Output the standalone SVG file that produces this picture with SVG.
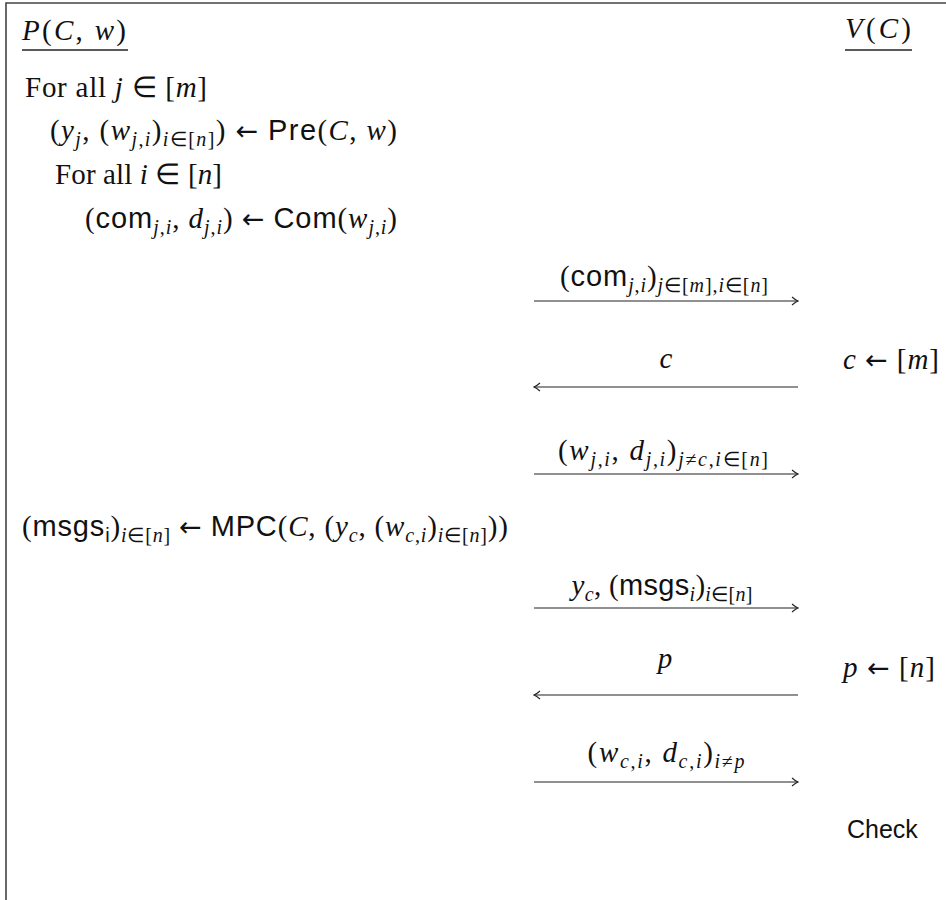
<svg xmlns="http://www.w3.org/2000/svg" width="946" height="900" viewBox="0 0 946 900">
  <style>
    .t { font-family: "Liberation Serif", "Times New Roman", serif; font-size: 29px; fill: #111; }
    .it { font-style: italic; }
    .sf { font-family: "Liberation Sans", Arial, sans-serif; font-style: normal; }
    .ar { font-family: "DejaVu Sans", sans-serif; font-style: normal; font-size: 27px; }
    .sub { font-size: 20px; }
    .frame { stroke: #444; stroke-width: 1.6; fill: none; }
    .rule { stroke: #222; stroke-width: 1.3; }
    .msg { stroke: #222; stroke-width: 1.2; fill: none; }
    .mid { text-anchor: middle; }
  </style>
  <defs>
    <marker id="tip" viewBox="-8 -5 9 10" refX="0" refY="0" markerWidth="9" markerHeight="10" markerUnits="userSpaceOnUse" orient="auto">
      <path d="M -6,-4 Q -2.5,-1 0,0 Q -2.5,1 -6,4" fill="none" stroke="#222" stroke-width="1.1"/>
    </marker>
  </defs>

  <rect width="946" height="900" fill="#fff"/>
  <!-- open frame: top and left edges only -->
  <path class="frame" d="M 6,900 V 3 H 946"/>

  <g id="prover">
    <text class="t" x="22" y="40" textLength="104" lengthAdjust="spacing"><tspan class="it">P</tspan>(<tspan class="it">C</tspan>, <tspan class="it">w</tspan>)</text>
    <line class="rule" x1="22" y1="50" x2="128" y2="50"/>
    <text class="t" x="25" y="97" textLength="182" lengthAdjust="spacing">For all <tspan class="it">j</tspan> ∈ [<tspan class="it">m</tspan>]</text>
    <text class="t" x="50" y="140" textLength="347" lengthAdjust="spacing">(<tspan class="it">y</tspan><tspan class="sub it" dy="6">j</tspan><tspan dy="-6">, (</tspan><tspan class="it">w</tspan><tspan class="sub" dy="6"><tspan class="it">j</tspan>,<tspan class="it">i</tspan></tspan><tspan dy="-6">)</tspan><tspan class="sub" dy="6"><tspan class="it">i</tspan>∈[<tspan class="it">n</tspan>]</tspan><tspan dy="-6">) </tspan><tspan class="ar">←</tspan> <tspan class="sf">Pre</tspan>(<tspan class="it">C</tspan>, <tspan class="it">w</tspan>)</text>
    <text class="t" x="55" y="184" textLength="167" lengthAdjust="spacing">For all <tspan class="it">i</tspan> ∈ [<tspan class="it">n</tspan>]</text>
    <text class="t" x="85" y="228" textLength="312" lengthAdjust="spacing">(<tspan class="sf">com</tspan><tspan class="sub" dy="6"><tspan class="it">j</tspan>,<tspan class="it">i</tspan></tspan><tspan dy="-6">, </tspan><tspan class="it">d</tspan><tspan class="sub" dy="6"><tspan class="it">j</tspan>,<tspan class="it">i</tspan></tspan><tspan dy="-6">) </tspan><tspan class="ar">←</tspan> <tspan class="sf">Com</tspan>(<tspan class="it">w</tspan><tspan class="sub" dy="6"><tspan class="it">j</tspan>,<tspan class="it">i</tspan></tspan><tspan dy="-6">)</tspan></text>
    <text class="t" x="22" y="536" textLength="486" lengthAdjust="spacing">(<tspan class="sf">msgs</tspan><tspan class="sub sf" dy="6">i</tspan><tspan dy="-6">)</tspan><tspan class="sub" dy="6"><tspan class="it">i</tspan>∈[<tspan class="it">n</tspan>]</tspan><tspan dy="-6"> </tspan><tspan class="ar">←</tspan> <tspan class="sf">MPC</tspan>(<tspan class="it">C</tspan>, (<tspan class="it">y</tspan><tspan class="sub it" dy="6">c</tspan><tspan dy="-6">, (</tspan><tspan class="it">w</tspan><tspan class="sub" dy="6"><tspan class="it">c</tspan>,<tspan class="it">i</tspan></tspan><tspan dy="-6">)</tspan><tspan class="sub" dy="6"><tspan class="it">i</tspan>∈[<tspan class="it">n</tspan>]</tspan><tspan dy="-6">))</tspan></text>
  </g>

  <g id="verifier">
    <text class="t" x="845" y="38" textLength="66" lengthAdjust="spacing"><tspan class="it">V</tspan>(<tspan class="it">C</tspan>)</text>
    <line class="rule" x1="845" y1="50" x2="912" y2="50"/>
    <text class="t" x="843" y="369" textLength="96" lengthAdjust="spacing"><tspan class="it">c</tspan> <tspan class="ar">←</tspan> [<tspan class="it">m</tspan>]</text>
    <text class="t" x="843" y="677" textLength="92" lengthAdjust="spacing"><tspan class="it">p</tspan> <tspan class="ar">←</tspan> [<tspan class="it">n</tspan>]</text>
    <text class="t sf" x="847" y="838" style="font-size:25px">Check</text>
  </g>

  <g id="connectors">
    <line class="msg" x1="534" y1="301" x2="798" y2="301" marker-end="url(#tip)"/>
    <line class="msg" x1="798" y1="387" x2="534" y2="387" marker-end="url(#tip)"/>
    <line class="msg" x1="534" y1="474" x2="798" y2="474" marker-end="url(#tip)"/>
    <line class="msg" x1="534" y1="608" x2="798" y2="608" marker-end="url(#tip)"/>
    <line class="msg" x1="798" y1="695" x2="534" y2="695" marker-end="url(#tip)"/>
    <line class="msg" x1="534" y1="782" x2="798" y2="782" marker-end="url(#tip)"/>

    <text class="t mid" x="664" y="286" textLength="208" lengthAdjust="spacing">(<tspan class="sf">com</tspan><tspan class="sub" dy="6"><tspan class="it">j</tspan>,<tspan class="it">i</tspan></tspan><tspan dy="-6">)</tspan><tspan class="sub" dy="6"><tspan class="it">j</tspan>∈[<tspan class="it">m</tspan>],<tspan class="it">i</tspan>∈[<tspan class="it">n</tspan>]</tspan></text>
    <text class="t mid it" x="666" y="368">c</text>
    <text class="t mid" x="663" y="460" textLength="210" lengthAdjust="spacing">(<tspan class="it">w</tspan><tspan class="sub" dy="6"><tspan class="it">j</tspan>,<tspan class="it">i</tspan></tspan><tspan dy="-6">, </tspan><tspan class="it">d</tspan><tspan class="sub" dy="6"><tspan class="it">j</tspan>,<tspan class="it">i</tspan></tspan><tspan dy="-6">)</tspan><tspan class="sub" dy="6"><tspan class="it">j</tspan>≠<tspan class="it">c</tspan>,<tspan class="it">i</tspan>∈[<tspan class="it">n</tspan>]</tspan></text>
    <text class="t mid" x="662" y="595" textLength="181" lengthAdjust="spacing"><tspan class="it">y</tspan><tspan class="sub it" dy="6">c</tspan><tspan dy="-6">, (</tspan><tspan class="sf">msgs</tspan><tspan class="sub it" dy="6">i</tspan><tspan dy="-6">)</tspan><tspan class="sub" dy="6"><tspan class="it">i</tspan>∈[<tspan class="it">n</tspan>]</tspan></text>
    <text class="t mid it" x="665" y="668">p</text>
    <text class="t mid" x="666" y="762" textLength="157" lengthAdjust="spacing">(<tspan class="it">w</tspan><tspan class="sub" dy="6"><tspan class="it">c</tspan>,<tspan class="it">i</tspan></tspan><tspan dy="-6">, </tspan><tspan class="it">d</tspan><tspan class="sub" dy="6"><tspan class="it">c</tspan>,<tspan class="it">i</tspan></tspan><tspan dy="-6">)</tspan><tspan class="sub" dy="6"><tspan class="it">i</tspan>≠<tspan class="it">p</tspan></tspan></text>
  </g>
</svg>
